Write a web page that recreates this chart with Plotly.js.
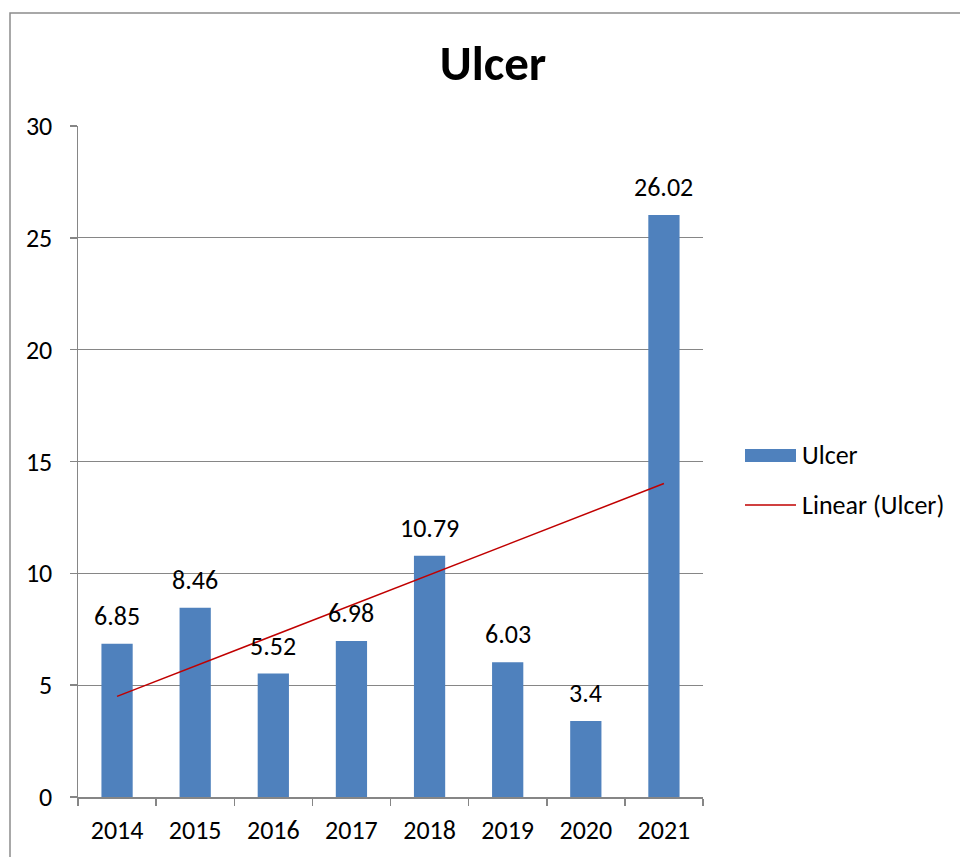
<!DOCTYPE html>
<html>
<head>
<meta charset="utf-8">
<script src="https://cdn.plot.ly/plotly-3.0.1.min.js"></script>
<style>html,body{margin:0;padding:0;background:#fff;}#chart{width:960px;height:857px;}</style>
</head>
<body>
<div id="chart"></div>
<script>
const years = ["2014", "2015", "2016", "2017", "2018", "2019", "2020", "2021"];
const ulcer = [6.85, 8.46, 5.52, 6.98, 10.79, 6.03, 3.4, 26.02];
const labels = ["6.85", "8.46", "5.52", "6.98", "10.79", "6.03", "3.4", "26.02"];
const seriesName = "Ulcer";
const trendName = "Linear (Ulcer)";

// Linear trendline (least squares over category index)
const n = ulcer.length;
const xs = ulcer.map((_, i) => i + 1);
const mx = xs.reduce((a, b) => a + b, 0) / n;
const my = ulcer.reduce((a, b) => a + b, 0) / n;
let sxy = 0, sxx = 0;
for (let i = 0; i < n; i++) { sxy += (xs[i] - mx) * (ulcer[i] - my); sxx += (xs[i] - mx) ** 2; }
const slope = sxy / sxx, intercept = my - slope * mx;
const trend = xs.map(x => intercept + slope * x);

const font = "Carlito, Calibri, 'Noto Sans', 'Open Sans', sans-serif";
const gray = "#868686";
const barColor = "#4F81BD";
const trendColor = "#C00000";
const fs = 26;

// pixel -> paper helpers for the plot area (l=78, r=703, t=126, b=797)
const px = v => (v - 78) / 625;
const py = v => (797 - v) / 671;

const data = [
  {
    type: "bar", x: years, y: ulcer, name: seriesName,
    marker: { color: barColor },
    hoverinfo: "skip", showlegend: false
  },
  {
    type: "scatter", mode: "lines", x: years, y: trend, name: trendName,
    line: { color: trendColor, width: 1.5 },
    hoverinfo: "skip", showlegend: false
  }
];

// data labels: category index on the x axis, value on the y axis
const dataLabels = years.map((yr, i) => ({
  xref: "x", yref: "y", x: i, y: ulcer[i], text: labels[i],
  xanchor: "center", yanchor: "bottom", yshift: 10, showarrow: false,
  font: { size: fs, family: font, color: "#000" }
}));

const layout = {
  width: 960, height: 857,
  margin: { l: 78, r: 257, t: 126, b: 60 },
  paper_bgcolor: "#fff", plot_bgcolor: "#fff",
  font: { family: font, size: fs, color: "#000" },
  title: { text: "<b>Ulcer</b>", font: { size: 49, family: font, color: "#000" },
           x: 0.5135, xref: "container", xanchor: "center", y: 1 - 63 / 857, yref: "container", yanchor: "middle" },
  bargap: 0.6,
  showlegend: false,
  xaxis: {
    type: "category", categoryorder: "array", categoryarray: years, range: [-0.5, years.length - 0.5],
    showgrid: false, showline: true, linecolor: gray, linewidth: 1.5,
    ticks: "outside", tickson: "boundaries", ticklen: 7, tickcolor: gray, tickwidth: 1.5,
    tickfont: { size: fs, family: font, color: "#000" }, fixedrange: true, ticklabelstandoff: 9
  },
  yaxis: {
    range: [0, 30], dtick: 5, showgrid: true, gridcolor: gray, gridwidth: 1.3,
    showline: true, linecolor: gray, linewidth: 1.5, zeroline: false,
    ticks: "outside", ticklen: 7, tickcolor: gray, tickwidth: 1.5,
    tickfont: { size: fs, family: font, color: "#000" }, fixedrange: true, ticklabelstandoff: 12
  },
  shapes: [
    { type: "rect", xref: "paper", yref: "paper",
      x0: px(10), x1: px(975), y0: py(870), y1: py(13),
      line: { color: "#8c8c8c", width: 1.5 }, fillcolor: "rgba(0,0,0,0)", layer: "below" },
    // legend swatches
    { type: "rect", xref: "paper", yref: "paper",
      x0: px(745), x1: px(796), y0: py(462), y1: py(449),
      line: { width: 0 }, fillcolor: barColor },
    { type: "line", xref: "paper", yref: "paper",
      x0: px(745), x1: px(796), y0: py(505), y1: py(505),
      line: { color: trendColor, width: 1.5 } }
  ],
  annotations: dataLabels.concat([
    { xref: "paper", yref: "paper", x: px(800), y: py(455), xanchor: "left", yanchor: "middle",
      text: seriesName, showarrow: false, font: { size: fs, family: font, color: "#000" } },
    { xref: "paper", yref: "paper", x: px(800), y: py(505), xanchor: "left", yanchor: "middle",
      text: trendName, showarrow: false, font: { size: fs, family: font, color: "#000" } }
  ])
};

Plotly.newPlot("chart", data, layout, { displayModeBar: false, staticPlot: true });
</script>
</body>
</html>
